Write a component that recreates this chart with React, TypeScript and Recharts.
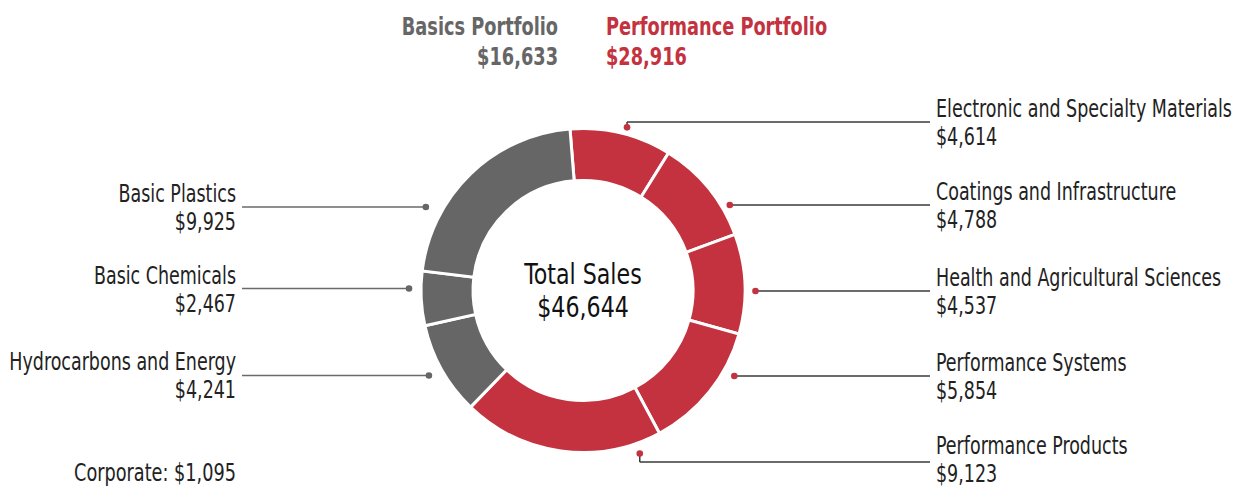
import React from 'react';
import { PieChart, Pie, Cell, Customized } from 'recharts';

// ---- data ----
const segmentNames = [
  'Electronic and Specialty Materials',
  'Coatings and Infrastructure',
  'Health and Agricultural Sciences',
  'Performance Systems',
  'Performance Products',
  'Hydrocarbons and Energy',
  'Basic Chemicals',
  'Basic Plastics',
];
const segmentValues = [4614, 4788, 4537, 5854, 9123, 4241, 2467, 9925];
const segmentGroups = [
  'performance',
  'performance',
  'performance',
  'performance',
  'performance',
  'basics',
  'basics',
  'basics',
];
const portfolioNames = ['Basics Portfolio', 'Performance Portfolio'];
const portfolioTotals = [16633, 28916];
const centerTitle = 'Total Sales';
const totalSales = 46644;
const corporateLabel = 'Corporate';
const corporateSales = 1095;

// ---- layout (annotation placement only) ----
const labelAngles = [15.1, 59.7, 90, 119.6, 160.8, 241.1, 270.6, 298];
const labelRadii = [169, 170, 172.5, 174, 172.6, 176, 174, 178];
const labelLineY = [122, 205, 291, 376, 462, 375.5, 288.5, 207];
const labelTextY = [117, 200, 286, 371, 454, 370, 284, 202];

const RED = '#c3323e';
const GRAY = '#666666';
const FONT = "'DejaVu Sans Condensed', 'DejaVu Sans', sans-serif";
const CX = 583;
const CY = 290.5;

const fmt = (v: number) => '$' + v.toLocaleString('en-US');

const data = segmentNames.map((name, i) => ({
  name,
  value: segmentValues[i],
  group: segmentGroups[i],
}));

type TProps = {
  x: number;
  y: number;
  sx: number;
  size: number;
  anchor: 'start' | 'middle' | 'end';
  fill: string;
  bold?: boolean;
  children: React.ReactNode;
};

const T = ({ x, y, sx, size, anchor, fill, bold, children }: TProps) => (
  <text
    x={0}
    y={0}
    transform={`translate(${x},${y}) scale(${sx},1)`}
    textAnchor={anchor}
    fontFamily={FONT}
    fontSize={size}
    fontWeight={bold ? 'bold' : 'normal'}
    fill={fill}
  >
    {children}
  </text>
);

const renderLabel = (props: any) => {
  const { cx, cy, index } = props;
  const a = (labelAngles[index] * Math.PI) / 180;
  const r = labelRadii[index];
  const dx = cx + r * Math.sin(a);
  const dy = cy - r * Math.cos(a);
  const ly = labelLineY[index];
  const isRight = labelAngles[index] < 180;
  const color = segmentGroups[index] === 'performance' ? RED : GRAY;
  const lineColor = isRight ? '#3a3a3a' : '#6a6a6a';
  const elbow = Math.abs(dy - ly) > 2;
  const dotY = elbow ? dy : ly;
  const tx = isRight ? 936 : 236;
  const anchor = isRight ? 'start' : 'end';
  const ty = labelTextY[index];
  return (
    <g key={`lbl-${index}`}>
      {elbow && (
        <line x1={dx} y1={dy} x2={dx} y2={ly} stroke={lineColor} strokeWidth={1.5} />
      )}
      {isRight ? (
        <line x1={dx} y1={ly} x2={930} y2={ly} stroke={lineColor} strokeWidth={1.5} />
      ) : (
        <line x1={242} y1={ly} x2={dx} y2={ly} stroke={lineColor} strokeWidth={1.5} />
      )}
      <circle cx={dx} cy={dotY} r={3.3} fill={color} />
      <T x={tx} y={ty} sx={0.81} size={24} anchor={anchor} fill="#222">
        {segmentNames[index]}
      </T>
      <T x={tx} y={ty + 28} sx={0.81} size={24} anchor={anchor} fill="#222">
        {fmt(segmentValues[index])}
      </T>
    </g>
  );
};

const Overlay = () => (
  <g>
    <T x={558} y={35} sx={0.79} size={25} anchor="end" fill={GRAY} bold>
      {portfolioNames[0]}
    </T>
    <T x={558} y={65} sx={0.79} size={25} anchor="end" fill={GRAY} bold>
      {fmt(portfolioTotals[0])}
    </T>
    <T x={606} y={35} sx={0.79} size={25} anchor="start" fill={RED} bold>
      {portfolioNames[1]}
    </T>
    <T x={606} y={65} sx={0.79} size={25} anchor="start" fill={RED} bold>
      {fmt(portfolioTotals[1])}
    </T>
    <T x={CX} y={284} sx={0.85} size={29} anchor="middle" fill="#111">
      {centerTitle}
    </T>
    <T x={CX} y={317} sx={0.85} size={29} anchor="middle" fill="#111">
      {fmt(totalSales)}
    </T>
    <T x={236} y={481} sx={0.82} size={24} anchor="end" fill="#222">
      {`${corporateLabel}: ${fmt(corporateSales)}`}
    </T>
  </g>
);

export default function App() {
  return (
    <div style={{ position: 'absolute', left: 0, top: 0, width: 1235, height: 486, background: '#fff' }}>
      <PieChart width={1235} height={486} margin={{ top: 0, right: 0, bottom: 0, left: 0 }}>
        <Pie
          data={data}
          dataKey="value"
          nameKey="name"
          cx={CX}
          cy={CY}
          innerRadius={110}
          outerRadius={162}
          startAngle={94.6}
          endAngle={-265.4}
          stroke="#ffffff"
          strokeWidth={3}
          isAnimationActive={false}
          label={renderLabel}
          labelLine={false}
        >
          {data.map((d, i) => (
            <Cell key={i} fill={d.group === 'performance' ? RED : GRAY} />
          ))}
        </Pie>
        <Customized component={Overlay} />
      </PieChart>
    </div>
  );
}
